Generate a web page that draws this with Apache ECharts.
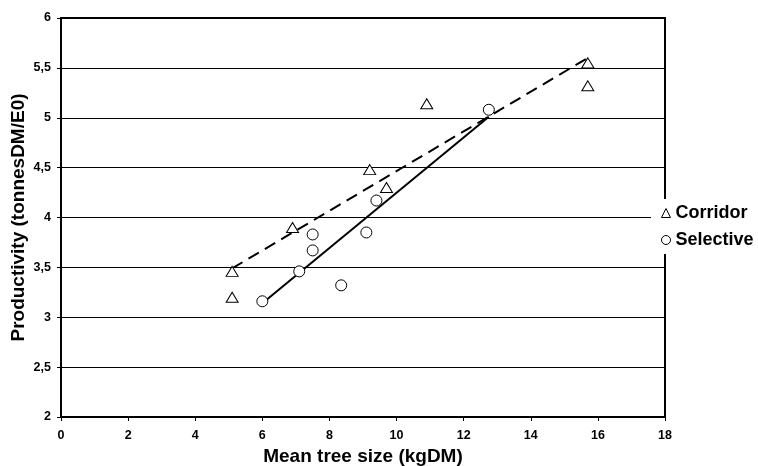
<!DOCTYPE html>
<html>
<head>
<meta charset="utf-8">
<script src="https://cdn.jsdelivr.net/npm/echarts@6/dist/echarts.min.js"></script>
<style>html,body{margin:0;padding:0;background:#fff;}#c{width:758px;height:466px;}</style>
</head>
<body>
<div id="c"></div>
<script>
// Data
const corridorX = [5.1, 5.1, 6.9, 9.2, 9.7, 10.9, 15.7, 15.7];
const corridorY = [3.46, 3.20, 3.90, 4.48, 4.30, 5.14, 5.55, 5.32];
const selectiveX = [6.0, 7.1, 7.5, 7.5, 8.35, 9.1, 9.4, 12.75];
const selectiveY = [3.16, 3.46, 3.83, 3.67, 3.32, 3.85, 4.17, 5.08];
const corridorTrendX = [5.1, 15.65];
const corridorTrendY = [3.49, 5.59];
const selectiveTrendX = [6.0, 12.75];
const selectiveTrendY = [3.14, 5.01];
const seriesNames = ['Corridor', 'Selective'];

const zip = (xs, ys) => xs.map((x, i) => [x, ys[i]]);
const FONT = '"Liberation Sans", Arial, sans-serif';

const chart = echarts.init(document.getElementById('c'));
chart.setOption({
  animation: false,
  backgroundColor: '#fff',
  grid: {
    left: 61, right: 93, top: 18, bottom: 49,
    containLabel: false, outerBoundsMode: 'none',
    show: true, borderColor: '#000', borderWidth: 2, backgroundColor: 'transparent'
  },
  legend: {
    data: seriesNames,
    orient: 'vertical',
    left: 651, top: 199,
    padding: [5, 4, 5, 10],
    itemGap: 9,
    itemWidth: 9, itemHeight: 9,
    backgroundColor: '#fff',
    z: 10,
    itemStyle: { borderWidth: 1, borderColor: '#000', color: '#fff' },
    textStyle: { fontFamily: FONT, fontWeight: 'bold', fontSize: 18, color: '#000', padding: [0, 0, 0, 0] }
  },
  xAxis: {
    type: 'value', min: 0, max: 18, interval: 2,
    axisLine: { show: true, onZero: false, lineStyle: { color: '#000', width: 2 } },
    axisTick: { show: true, length: 4, lineStyle: { color: '#000', width: 1 } },
    axisLabel: { fontFamily: FONT, fontWeight: 'bold', fontSize: 12.5, color: '#000', margin: 12 },
    splitLine: { show: false },
    name: 'Mean tree size (kgDM)', nameLocation: 'middle', nameGap: 30, nameMoveOverlap: false,
    nameTextStyle: { fontFamily: FONT, fontWeight: 'bold', fontSize: 19, color: '#000' }
  },
  yAxis: {
    type: 'value', min: 2, max: 6, interval: 0.5,
    axisLine: { show: true, onZero: false, lineStyle: { color: '#000', width: 2 } },
    axisTick: { show: true, length: 4, lineStyle: { color: '#000', width: 1 } },
    axisLabel: { fontFamily: FONT, fontWeight: 'bold', fontSize: 12.5, color: '#000', margin: 10,
      formatter: v => String(v).replace('.', ',') },
    splitLine: { show: true, lineStyle: { color: '#000', width: 1 } },
    name: 'Productivity (tonnesDM/E0)', nameLocation: 'middle', nameGap: 33, nameMoveOverlap: false,
    nameTextStyle: { fontFamily: FONT, fontWeight: 'bold', fontSize: 19, color: '#000' }
  },
  series: [
    {
      name: 'trendCorridor', type: 'line', data: zip(corridorTrendX, corridorTrendY),
      symbol: 'none', lineStyle: { color: '#000', width: 2, type: [12, 7] }, z: 3
    },
    {
      name: 'trendSelective', type: 'line', data: zip(selectiveTrendX, selectiveTrendY),
      symbol: 'none', lineStyle: { color: '#000', width: 2, type: 'solid' }, z: 3
    },
    {
      name: seriesNames[0], type: 'scatter', data: zip(corridorX, corridorY),
      symbol: 'triangle', symbolSize: [12, 10],
      itemStyle: { color: '#fff', borderColor: '#000', borderWidth: 1, opacity: 1 }, z: 4
    },
    {
      name: seriesNames[1], type: 'scatter', data: zip(selectiveX, selectiveY),
      symbol: 'circle', symbolSize: 11,
      itemStyle: { color: '#fff', borderColor: '#000', borderWidth: 1, opacity: 1 }, z: 4
    }
  ]
});
</script>
</body>
</html>
